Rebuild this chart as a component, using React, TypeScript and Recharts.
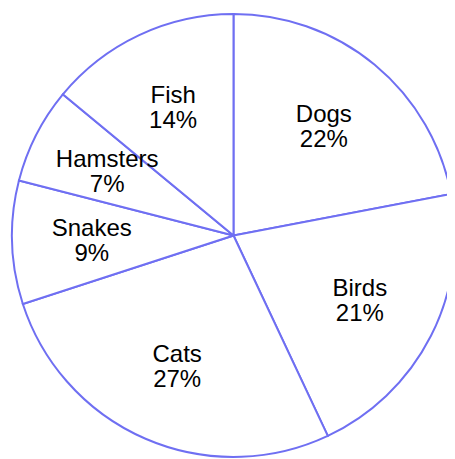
import React from 'react'
import { PieChart, Pie, Cell } from 'recharts'

// pets share, clockwise from 12 o'clock
const pets = ['Dogs', 'Birds', 'Cats', 'Snakes', 'Hamsters', 'Fish']
const shares = [22, 21, 27, 9, 7, 14]

const data = pets.map((name, i) => ({ name, value: shares[i] }))

const RADIAN = Math.PI / 180

const renderLabel = ({ cx, cy, midAngle, outerRadius, name, value }: any) => {
  const r = outerRadius * 0.64
  const x = cx + r * Math.cos(-midAngle * RADIAN)
  const y = cy + r * Math.sin(-midAngle * RADIAN)
  return (
    <text x={x} y={y} fill="#000" textAnchor="middle" fontSize={24} fontFamily="'Liberation Sans', Arial, sans-serif">
      <tspan x={x} y={y - 4}>{name}</tspan>
      <tspan x={x} y={y + 21}>{`${value}%`}</tspan>
    </text>
  )
}

const App: React.FC = () => {
  return (
    <PieChart width={447} height={451} margin={{ top: 0, right: 0, bottom: 0, left: 0 }}>
      <Pie
        data={data}
        dataKey="value"
        nameKey="name"
        cx={225.5}
        cy={227.5}
        outerRadius={221.5}
        startAngle={90}
        endAngle={-270}
        fill="#fff"
        stroke="#6f6ff2"
        strokeWidth={2}
        label={renderLabel}
        labelLine={false}
        isAnimationActive={false}
      >
        {data.map((d) => (
          <Cell key={d.name} fill="#fff" stroke="#6f6ff2" />
        ))}
      </Pie>
    </PieChart>
  )
}

export default App
